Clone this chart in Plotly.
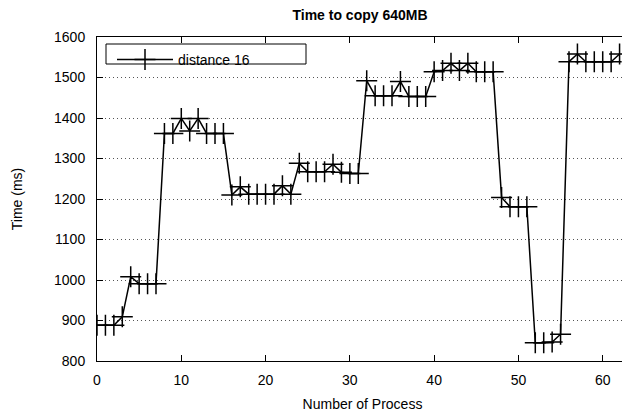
import plotly.graph_objects as go

process = list(range(63))
time_ms = [888, 888, 888, 909, 1008, 991, 991, 991,
           1362, 1362, 1399, 1368, 1399, 1362, 1362, 1362,
           1210, 1230, 1212, 1212, 1212, 1212, 1233, 1212,
           1288, 1267, 1267, 1267, 1286, 1266, 1263, 1263,
           1492, 1455, 1455, 1455, 1490, 1453, 1453, 1453,
           1514, 1517, 1535, 1517, 1535, 1514, 1514, 1514,
           1204, 1181, 1181, 1181, 845, 845, 847, 866,
           1539, 1558, 1539, 1539, 1539, 1539, 1558]
series_name = "distance 16"
title_text = "Time to copy 640MB"
x_title = "Number of Process"
y_title = "Time (ms)"
x_ticks = [0, 10, 20, 30, 40, 50, 60]
y_ticks = [800, 900, 1000, 1100, 1200, 1300, 1400, 1500, 1600]

FONT = "Liberation Sans, Arial, sans-serif"

# page body has an 8px default margin; size the figure to fit the window
OFF = 8
W, H = 630 - OFF, 418 - OFF
L, R, T, B = 97 - OFF, 2, 37 - OFF, 57
PW, PH = W - L - R, H - T - B


def px_x(x):
    return (x - OFF - L) / PW


def px_y(y):
    return 1 - (y - OFF - T) / PH


fig = go.Figure()
fig.add_trace(go.Scatter(
    x=process, y=time_ms, mode="lines+markers", name=series_name,
    line=dict(color="black", width=1.5),
    marker=dict(symbol="cross-thin", size=15, color="black",
                line=dict(color="black", width=1.5)),
))

fig.update_layout(
    width=W, height=H,
    margin=dict(l=L, r=R, t=T, b=B),
    paper_bgcolor="white", plot_bgcolor="white",
    font=dict(family=FONT, size=14, color="black"),
    title=dict(text="<b>" + title_text + "</b>",
               x=(360 - OFF) / W, xanchor="center",
               y=1 - 2 / H, yanchor="top", pad=dict(t=0, b=0, l=0, r=0),
               font=dict(size=14)),
    showlegend=True,
    legend=dict(x=px_x(112), y=px_y(44), xanchor="left", yanchor="top",
                bgcolor="rgba(0,0,0,0)", borderwidth=0,
                font=dict(size=14), itemwidth=56, tracegroupgap=0),
    shapes=[dict(type="rect", xref="paper", yref="paper",
                 x0=px_x(106), x1=px_x(306), y0=px_y(64), y1=px_y(44),
                 line=dict(color="black", width=1),
                 fillcolor="rgba(0,0,0,0)")],
)

fig.update_xaxes(
    range=[0, 63], tickvals=x_ticks, ticks="inside", ticklen=6,
    tickcolor="black", showline=True, linecolor="black", linewidth=1,
    mirror="ticks", showgrid=False, zeroline=False, ticklabelstandoff=6,
    title=dict(text=x_title, standoff=12, font=dict(size=14)),
)
fig.update_yaxes(
    range=[800, 1600], tickvals=y_ticks, ticks="inside", ticklen=6,
    tickcolor="black", showline=True, linecolor="black", linewidth=1,
    mirror="ticks", showgrid=True, gridcolor="#555", gridwidth=1,
    griddash="1px,3px", zeroline=False, ticklabelstandoff=8,
    title=dict(text=y_title, standoff=28, font=dict(size=14)),
)

fig.write_html("out.html")
